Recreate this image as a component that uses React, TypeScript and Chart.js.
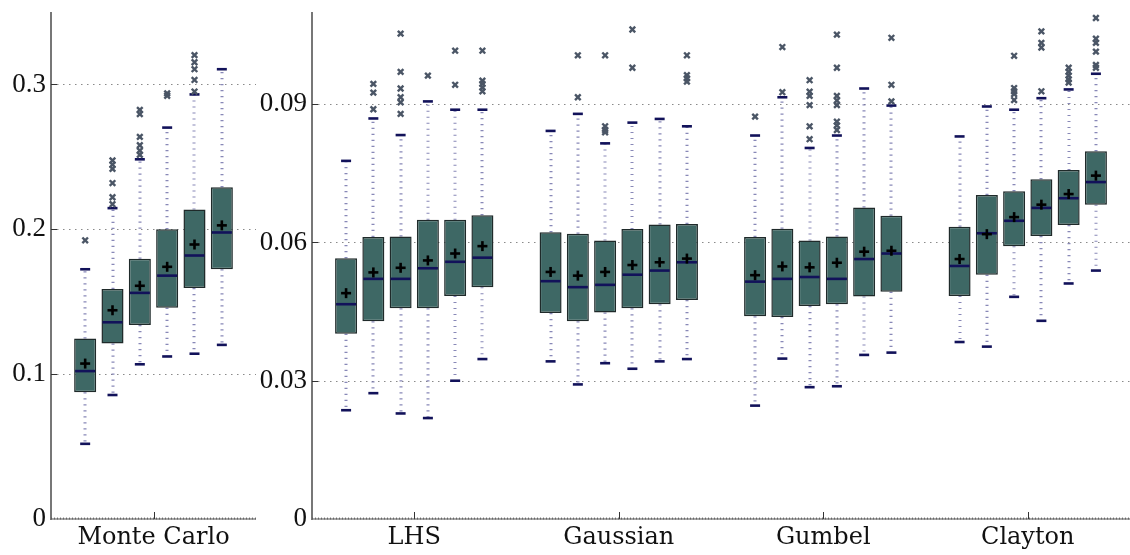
import React, { useEffect, useRef } from 'react';
import { Chart, registerables } from 'chart.js';

Chart.register(...registerables);

// ---------------- Left panel: Monte Carlo ----------------
const leftCategories = ['Monte Carlo'];
const leftMax = 0.35;
const leftStep = 0.1;
const leftWhiskerLow = [[0.0519, 0.0856, 0.1068, 0.1122, 0.1141, 0.1202]];
const leftQ1 = [[0.0875, 0.1212, 0.1339, 0.1458, 0.1595, 0.1724]];
const leftMedian = [[0.1021, 0.1358, 0.1561, 0.168, 0.1819, 0.1978]];
const leftQ3 = [[0.1246, 0.1588, 0.1797, 0.2, 0.2136, 0.229]];
const leftWhiskerHigh = [[0.1724, 0.2146, 0.2483, 0.2702, 0.2931, 0.3105]];
const leftMean = [[0.1073, 0.1441, 0.161, 0.1741, 0.1895, 0.2027]];
const leftOutliers = [[
  [0.1924],
  [0.2475, 0.2446, 0.2417, 0.2319, 0.2221, 0.2173],
  [0.2824, 0.2795, 0.2638, 0.258, 0.2543, 0.2514],
  [0.2938, 0.2922],
  [0.3202, 0.3153, 0.3105, 0.3031, 0.2951],
  [],
]];

// ---------------- Right panel: LHS / copulas ----------------
const rightCategories = ['LHS', 'Gaussian', 'Gumbel', 'Clayton'];
const rightMax = 0.11;
const rightStep = 0.03;
const rightWhiskerLow = [
  [0.0236, 0.0273, 0.0229, 0.0219, 0.03, 0.0347],
  [0.0342, 0.0292, 0.0338, 0.0326, 0.0342, 0.0347],
  [0.0246, 0.0348, 0.0286, 0.0288, 0.0356, 0.0361],
  [0.0384, 0.0374, 0.0482, 0.043, 0.0511, 0.0539],
];
const rightQ1 = [
  [0.0402, 0.0429, 0.0457, 0.0457, 0.0484, 0.0503],
  [0.0447, 0.0429, 0.0448, 0.0457, 0.0466, 0.0475],
  [0.044, 0.0438, 0.0462, 0.0466, 0.0483, 0.0493],
  [0.0484, 0.053, 0.0592, 0.0614, 0.0638, 0.0682],
];
const rightMedian = [
  [0.0466, 0.0521, 0.0521, 0.0544, 0.0558, 0.0567],
  [0.0516, 0.0503, 0.0508, 0.053, 0.0539, 0.0557],
  [0.0515, 0.0521, 0.0525, 0.0521, 0.0564, 0.0576],
  [0.0549, 0.062, 0.0647, 0.0675, 0.0696, 0.0731],
];
const rightQ3 = [
  [0.0566, 0.0612, 0.0613, 0.0649, 0.0649, 0.0659],
  [0.0622, 0.0619, 0.0604, 0.0629, 0.0639, 0.064],
  [0.0612, 0.063, 0.0604, 0.0613, 0.0676, 0.0658],
  [0.0634, 0.0703, 0.0711, 0.0737, 0.0757, 0.0798],
];
const rightWhiskerHigh = [
  [0.0777, 0.0869, 0.0833, 0.0906, 0.0888, 0.0888],
  [0.0842, 0.0879, 0.0815, 0.086, 0.0868, 0.0852],
  [0.0832, 0.0915, 0.0805, 0.0832, 0.0934, 0.0897],
  [0.083, 0.0895, 0.0888, 0.0913, 0.0932, 0.0966],
];
const rightMean = [
  [0.049, 0.0535, 0.0545, 0.0561, 0.0576, 0.0592],
  [0.0536, 0.0528, 0.0536, 0.0551, 0.0557, 0.0565],
  [0.0529, 0.0548, 0.0546, 0.0556, 0.058, 0.0582],
  [0.0564, 0.0618, 0.0655, 0.0682, 0.0705, 0.0745],
];
const rightOutliers = [
  [[], [0.0944, 0.0925, 0.0889], [0.1053, 0.097, 0.0934, 0.0915, 0.0904, 0.0879], [0.0962], [0.1016, 0.0942], [0.1016, 0.0951, 0.0944, 0.0936, 0.0928]],
  [[], [0.1006, 0.0915], [0.1006, 0.0852, 0.0844, 0.0839], [0.1062, 0.0979], [], [0.1006, 0.0963, 0.0956, 0.0949]],
  [[0.0873], [0.1024, 0.0926], [0.0952, 0.0927, 0.0918, 0.0898, 0.0852, 0.0824], [0.1051, 0.0979, 0.0918, 0.0908, 0.0898, 0.0862, 0.0854, 0.0844], [], [0.1044, 0.0942, 0.0906]],
  [[], [], [0.1005, 0.0935, 0.0928, 0.0922, 0.0909], [0.1058, 0.1033, 0.1023, 0.0928], [0.0979, 0.097, 0.0962, 0.0954, 0.0947], [0.1087, 0.1042, 0.1033, 0.1014, 0.0985, 0.0979]],
];

const BOXES_PER_GROUP = 6;
const BOX_FILL = 'rgb(62,104,101)';
const BOX_BORDER = '#1f2a2a';
const NAVY = '#12125a';

type Stats = {
  wl: number[][]; q1: number[][]; med: number[][]; q3: number[][]; wh: number[][]; mean: number[][]; out: number[][][];
};

function line(ctx: CanvasRenderingContext2D, x1: number, y1: number, x2: number, y2: number) {
  ctx.beginPath();
  ctx.moveTo(x1, y1);
  ctx.lineTo(x2, y2);
  ctx.stroke();
}

function makePlugin(s: Stats) {
  return {
    id: 'boxExtras',
    beforeDatasetsDraw(chart: any) {
      const { ctx, chartArea, scales } = chart;
      const y = scales.y;
      ctx.save();
      // dotted grid lines
      ctx.strokeStyle = '#8a8a8a';
      ctx.lineWidth = 1.2;
      ctx.setLineDash([1.5, 4.5]);
      for (const t of y.ticks) {
        if (t.value === 0) continue;
        const py = Math.round(y.getPixelForValue(t.value)) + 0.5;
        line(ctx, chartArea.left, py, chartArea.right, py);
      }
      // whiskers
      ctx.setLineDash([1.2, 4.8]);
      ctx.lineWidth = 3;
      ctx.strokeStyle = 'rgba(115,115,170,0.85)';
      for (let b = 0; b < BOXES_PER_GROUP; b++) {
        const meta = chart.getDatasetMeta(b);
        meta.data.forEach((el: any, c: number) => {
          const x = Math.round(el.x);
          line(ctx, x, y.getPixelForValue(s.q3[c][b]), x, y.getPixelForValue(s.wh[c][b]));
          line(ctx, x, y.getPixelForValue(s.q1[c][b]), x, y.getPixelForValue(s.wl[c][b]));
        });
      }
      ctx.restore();
    },
    afterDatasetsDraw(chart: any) {
      const { ctx, chartArea, scales } = chart;
      const y = scales.y;
      const xs = scales.x;
      ctx.save();
      ctx.setLineDash([]);
      for (let b = 0; b < BOXES_PER_GROUP; b++) {
        const meta = chart.getDatasetMeta(b);
        meta.data.forEach((el: any, c: number) => {
          const x = el.x;
          const hw = el.width / 2;
          // median
          ctx.strokeStyle = NAVY;
          ctx.lineWidth = 2.6;
          const pm = y.getPixelForValue(s.med[c][b]);
          line(ctx, x - hw + 1, pm, x + hw - 1, pm);
          // caps
          ctx.lineWidth = 2.6;
          const ph = y.getPixelForValue(s.wh[c][b]);
          const pl = y.getPixelForValue(s.wl[c][b]);
          line(ctx, x - 5, ph, x + 5, ph);
          line(ctx, x - 5, pl, x + 5, pl);
          // mean +
          ctx.strokeStyle = '#000';
          ctx.lineWidth = 2.6;
          const pmean = y.getPixelForValue(s.mean[c][b]);
          line(ctx, x - 5, pmean, x + 5, pmean);
          line(ctx, x, pmean - 5, x, pmean + 5);
          // outliers x
          ctx.strokeStyle = '#4b5666';
          ctx.lineWidth = 2.4;
          for (const v of s.out[c][b]) {
            const po = y.getPixelForValue(v);
            line(ctx, x - 2.8, po - 2.8, x + 2.8, po + 2.8);
            line(ctx, x - 2.8, po + 2.8, x + 2.8, po - 2.8);
          }
        });
      }
      // left spine
      ctx.strokeStyle = '#777';
      ctx.lineWidth = 2;
      line(ctx, chartArea.left, chartArea.top, chartArea.left, chartArea.bottom + 1);
      // y tick marks (inward)
      ctx.strokeStyle = '#333';
      ctx.lineWidth = 1;
      for (const t of y.ticks) {
        if (t.value === 0) continue;
        const py = Math.round(y.getPixelForValue(t.value)) + 0.5;
        line(ctx, chartArea.left, py, chartArea.left + 6, py);
      }
      // bottom axis
      const by = chartArea.bottom;
      ctx.strokeStyle = '#8a8a8a';
      ctx.lineWidth = 1.5;
      line(ctx, chartArea.left, by, chartArea.right, by);
      ctx.strokeStyle = 'rgba(80,80,80,0.75)';
      ctx.lineWidth = 2;
      ctx.setLineDash([1, 2]);
      line(ctx, chartArea.left, by - 0.5, chartArea.right, by - 0.5);
      ctx.setLineDash([]);
      // category ticks
      ctx.strokeStyle = '#333';
      ctx.lineWidth = 1;
      xs.ticks.forEach((_t: any, i: number) => {
        const px = Math.round(xs.getPixelForValue(i)) + 0.5;
        line(ctx, px, by, px, by - 7);
      });
      ctx.restore();
    },
  };
}

function buildConfig(categories: string[], s: Stats, max: number, step: number, axisWidth: number) {
  const datasets = [];
  for (let b = 0; b < BOXES_PER_GROUP; b++) {
    datasets.push({
      data: categories.map((_, c) => [s.q1[c][b], s.q3[c][b]]),
      backgroundColor: BOX_FILL,
      borderColor: BOX_BORDER,
      borderWidth: 1.5,
      borderSkipped: false,
      categoryPercentage: 0.8,
      barPercentage: 0.807,
    });
  }
  return {
    type: 'bar' as const,
    data: { labels: categories, datasets },
    options: {
      responsive: false,
      maintainAspectRatio: false,
      animation: false as const,
      devicePixelRatio: 1,
      layout: { padding: { top: 12, right: 0, bottom: 0, left: 0 } },
      plugins: { legend: { display: false }, tooltip: { enabled: false } },
      scales: {
        x: {
          type: 'category' as const,
          grid: { display: false, drawTicks: false },
          border: { display: false },
          ticks: {
            maxRotation: 0,
            autoSkip: false,
            padding: 4,
            color: '#111',
            font: { family: '"DejaVu Serif", serif', size: 24 },
          },
          afterFit: (sc: any) => {
            sc.height = 36;
            sc.paddingLeft = 0;
            sc.paddingRight = 0;
          },
        },
        y: {
          type: 'linear' as const,
          min: 0,
          max,
          grid: { display: false, drawTicks: false },
          border: { display: false },
          ticks: {
            stepSize: step,
            includeBounds: false,
            padding: 5,
            color: '#111',
            font: { family: '"Liberation Serif", serif', size: 27 },
            callback: (v: any) => String(Number(Number(v).toFixed(2))),
          },
          afterFit: (sc: any) => {
            sc.width = axisWidth;
            sc.paddingTop = 0;
            sc.paddingBottom = 0;
          },
        },
      },
    },
    plugins: [makePlugin(s)],
  };
}

export default function App() {
  const leftRef = useRef<HTMLCanvasElement>(null);
  const rightRef = useRef<HTMLCanvasElement>(null);

  useEffect(() => {
    const leftStats: Stats = {
      wl: leftWhiskerLow, q1: leftQ1, med: leftMedian, q3: leftQ3, wh: leftWhiskerHigh, mean: leftMean, out: leftOutliers,
    };
    const rightStats: Stats = {
      wl: rightWhiskerLow, q1: rightQ1, med: rightMedian, q3: rightQ3, wh: rightWhiskerHigh, mean: rightMean, out: rightOutliers,
    };
    const c1 = new Chart(leftRef.current as HTMLCanvasElement, buildConfig(leftCategories, leftStats, leftMax, leftStep, 51) as any);
    const c2 = new Chart(rightRef.current as HTMLCanvasElement, buildConfig(rightCategories, rightStats, rightMax, rightStep, 56) as any);
    return () => {
      c1.destroy();
      c2.destroy();
    };
  }, []);

  return (
    <div style={{ position: 'absolute', left: 0, top: 0, width: 1130, height: 555, background: '#fff', overflow: 'hidden' }}>
      <canvas ref={leftRef} width={256} height={555} style={{ position: 'absolute', left: 0, top: 0, width: 256, height: 555 }} />
      <canvas ref={rightRef} width={874} height={555} style={{ position: 'absolute', left: 256, top: 0, width: 874, height: 555 }} />
    </div>
  );
}
